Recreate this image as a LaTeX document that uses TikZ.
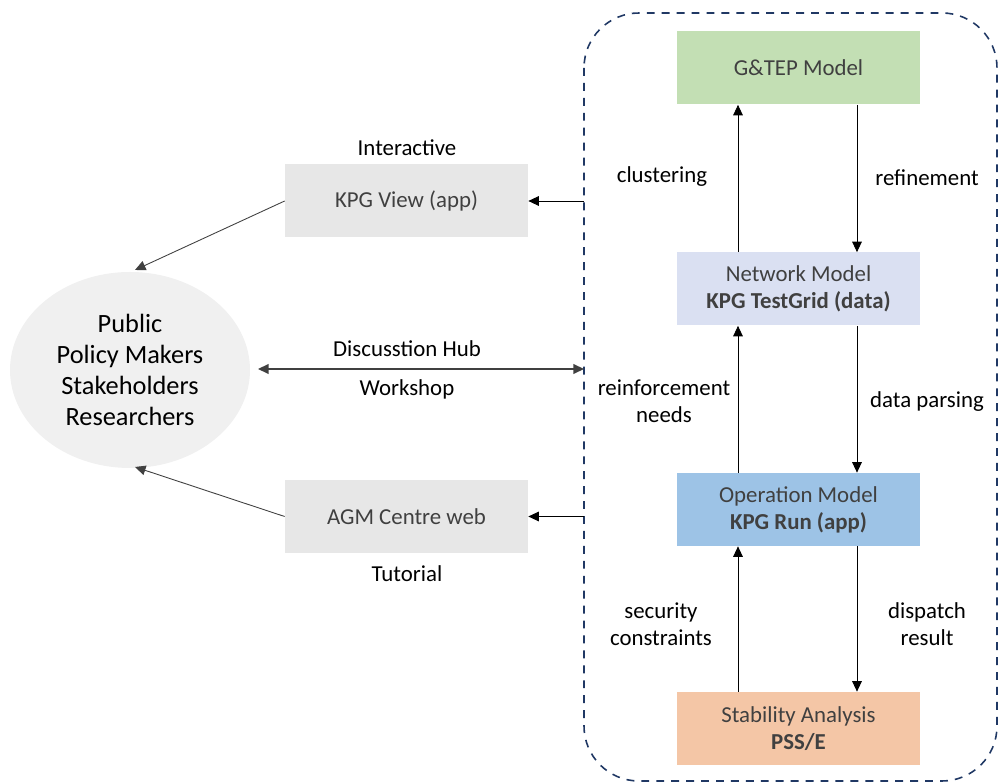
\documentclass[tikz,border=0pt]{standalone}
\usepackage{fontspec}
\setmainfont{Carlito}
\usetikzlibrary{arrows.meta,shapes.geometric}
\definecolor{gtep}{HTML}{C3DFB4}
\definecolor{netw}{HTML}{DAE0F2}
\definecolor{oper}{HTML}{9DC3E6}
\definecolor{stab}{HTML}{F4C6A6}
\definecolor{grayb}{HTML}{E7E7E7}
\definecolor{ellf}{HTML}{F0F0F0}
\definecolor{navy}{HTML}{203864}
\definecolor{boxtxt}{HTML}{404040}
\tikzset{
  blk/.style={minimum width=243*0.02cm, minimum height=73*0.02cm, inner sep=0pt, text=boxtxt, font=\fontsize{13}{15.5}\selectfont, align=center},
  lbl/.style={font=\fontsize{13}{15.5}\selectfont, align=center, text=black},
  arr/.style={-{Triangle[length=6pt,width=5.5pt]}, line width=0.5pt},
  darr/.style={{Triangle[length=6pt,width=5.5pt]}-{Triangle[length=6pt,width=5.5pt]}, line width=0.8pt, draw=black!75}
}
\begin{document}
\begin{tikzpicture}[x=0.02cm,y=-0.02cm]
\useasboundingbox (0,0) rectangle (998,783);
\draw[navy, line width=0.9pt, dash pattern=on 4.5pt off 4pt, rounded corners=55*0.02cm] (584,13) rectangle (997,781);
% right column
\node[blk, fill=gtep] (g) at (798.5,68) {G\&TEP Model};
\node[blk, fill=netw] (n) at (798.5,289) {Network Model\\\textbf{KPG TestGrid (data)}};
\node[blk, fill=oper] (o) at (798.5,509.5) {Operation Model\\\textbf{KPG Run (app)}};
\node[blk, fill=stab] (s) at (798.5,728.5) {Stability Analysis\\\textbf{PSS/E}};
% left column
\node[blk, fill=grayb] (v) at (406.5,201) {KPG View (app)};
\node[blk, fill=grayb] (a) at (406.5,516.5) {AGM Centre web};
\node[ellipse, fill=ellf, minimum width=240*0.02cm, minimum height=196*0.02cm, inner sep=0pt, font=\fontsize{15}{17.6}\selectfont, align=center] (p) at (130,370) {Public\\Policy Makers\\Stakeholders\\Researchers};
% coordinates on dashed border
\coordinate (bv) at (584,201);
\coordinate (ba) at (584,516.5);
\coordinate (bh) at (584,369);
% vertical arrows
\draw[arr] (n.north -| 738,0) -- (g.south -| 738,0);
\draw[arr] (g.south -| 857,0) -- (n.north -| 857,0);
\draw[arr] (o.north -| 738,0) -- (n.south -| 738,0);
\draw[arr] (n.south -| 857,0) -- (o.north -| 857,0);
\draw[arr] (s.north -| 738,0) -- (o.south -| 738,0);
\draw[arr] (o.south -| 857,0) -- (s.north -| 857,0);
% labels
\node[lbl] (l1) at (662,177) {clustering};
\node[lbl] (l2) at (927,178) {refinement};
\node[lbl] (l3) at (664,401) {reinforcement\\needs};
\node[lbl] (l4) at (927,402) {data parsing};
\node[lbl] (l5) at (661,624) {security\\constraints};
\node[lbl] (l6) at (927,624) {dispatch\\result};
% left arrows
\draw[arr] (bv) -- (v.east);
\draw[arr] (ba) -- (a.east);
\draw[arr, draw=black!75] (v.west) -- (135,270);
\draw[arr, draw=black!75] (a.west) -- (135,467);
\draw[darr] (258,369) -- (bh);
\node[lbl] (t1) at (407,148) {Interactive};
\node[lbl] (t2) at (407,349) {Discusstion Hub};
\node[lbl] (t3) at (407,389) {Workshop};
\node[lbl] (t4) at (407,574) {Tutorial};
\end{tikzpicture}
\end{document}
